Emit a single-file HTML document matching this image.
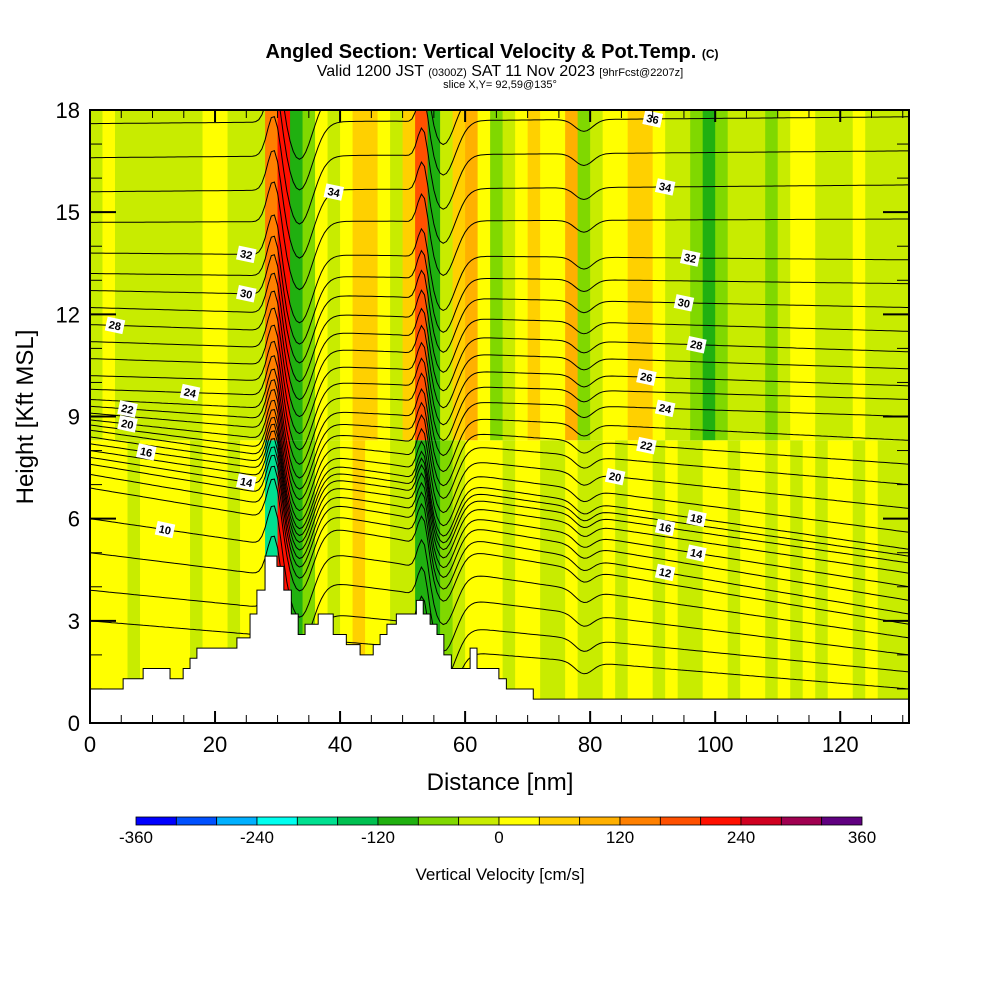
<!DOCTYPE html>
<html><head><meta charset="utf-8"><style>
body{margin:0;background:#fff;width:1000px;height:1000px;overflow:hidden;font-family:"Liberation Sans",sans-serif}
svg text{font-family:"Liberation Sans",sans-serif}
</style></head><body>
<svg id="c" width="1000" height="1000" xmlns="http://www.w3.org/2000/svg">
<g>
<text x="492" y="58" font-size="20" font-weight="bold" text-anchor="middle">Angled Section: Vertical Velocity &amp; Pot.Temp. <tspan font-size="12">(C)</tspan></text>
<text x="500" y="76" font-size="16" text-anchor="middle">Valid 1200 JST <tspan font-size="11">(0300Z)</tspan> SAT 11 Nov 2023 <tspan font-size="11">[9hrFcst@2207z]</tspan></text>
<text x="500" y="88" font-size="11" text-anchor="middle">slice X,Y= 92,59@135°</text>
</g>
<g id="plot"></g>
<g id="axes"></g>
<g id="cbar"></g>
</svg>
<script>
// ---- data ----
const colorBounds=[-360,-320,-280,-240,-200,-160,-120,-80,-40,0,40,80,120,160,200,240,280,320,360];
const colorList=["#0000ff","#0050ff","#00b0ff","#00fff0","#00e090","#00c050","#20b010","#80d800","#c8ec00","#ffff00","#ffd000","#ffb000","#ff8000","#ff5000","#ff1000","#d00020","#a00050","#600080"];
const cbarLabels=[-360,-240,-120,0,120,240,360];
const xTicks=[0,20,40,60,80,100,120];
const yTicks=[0,3,6,9,12,15,18];
// vertical velocity by 2-nm column (upper / lower layers)
const velUpper=[-20,20,-20,-20,-20,-20,-20,-20,-20,20,20,-20,-20,-20,140,200,-100,-60,20,-20,20,60,60,20,-20,60,160,-100,-20,60,100,20,-60,-20,20,60,20,20,100,-60,-20,20,20,60,60,20,-20,-20,-60,-100,-60,-20,-20,-20,-60,-20,20,20,-20,-20,-20,20,-20,-20,-20,-20];
const velLower=[20,20,20,-20,20,20,20,20,-20,20,20,-20,20,20,-200,220,-120,-60,20,-20,20,60,20,20,-20,-20,-100,-120,-60,-20,20,20,20,-20,20,20,-20,-20,20,-20,-20,20,-20,20,20,-20,20,-20,-20,20,20,-20,20,20,-20,20,-20,20,-20,20,20,-20,20,-20,-20,-20];
// terrain steps: distance nm, height kft
const terrainX=[0,5.3,8.5,12.8,14.9,16,17.1,23.5,25.6,26.7,28,29.9,31,32.2,33.3,34.4,36.5,38.9,41,43.2,45.3,46.4,47.5,49,52.2,53.3,54.4,55.5,56.6,57.8,60.8,61.9,65.4,66.6,70.9,131];
const terrainH=[1.0,1.3,1.6,1.3,1.6,1.9,2.2,2.5,3.2,3.9,4.9,4.6,3.9,3.2,2.6,2.9,3.2,2.6,2.3,2.0,2.3,2.6,2.9,3.2,3.6,3.2,2.9,2.6,2.0,1.6,2.2,1.6,1.3,1.0,0.7,0.3];
// potential temperature contour levels with heights at left & right edges
const thetaLevels=[7,8,9,10,11,12,13,14,15,16,17,18,19,20,21,22,23,24,25,26,27,28,29,30,31,32,33,34,35,36,37];
const thetaLeft=[3.0,3.9,5.0,6.0,6.9,7.3,7.6,7.8,8.0,8.2,8.4,8.6,8.75,8.9,9.1,9.3,9.5,9.8,10.2,10.7,11.2,11.7,12.2,12.7,13.2,13.8,14.7,15.6,16.6,17.6,18.5];
const thetaRight=[1.0,1.5,2.0,2.5,2.9,3.2,3.6,4.0,4.4,4.7,4.9,5.1,5.6,6.3,7.0,7.6,8.3,9.0,9.5,9.9,10.4,10.9,11.5,12.2,12.9,13.6,14.8,15.8,16.8,17.8,18.7];
const waveX=[29.5,33.5,53.3,56.5,79];
const waveAmp=[1.5,-2.0,1.2,-1.6,-0.35];
const waveW=[1.5,3.0,1.2,2.8,2.0];
const labelLevels=[10,14,16,20,22,24,28,30,32,34,36,12,14,16,18,20,22,24,26,28,30,32,34,36];
const labelX=[12,25,9,6,6,16,4,25,25,39,90,92,97,92,97,84,89,92,89,97,95,96,92,90];

const NS="http://www.w3.org/2000/svg";
const X0=90,X1=909,Y0=723,Y1=110,XMAX=131,YMAX=18;
const sx=d=>X0+d*(X1-X0)/XMAX, sy=h=>Y0-h*(Y0-Y1)/YMAX;
function mk(tag,attrs,parent){const e=document.createElementNS(NS,tag);for(const k in attrs)e.setAttribute(k,attrs[k]);parent.appendChild(e);return e;}
function colorFor(v){for(let i=0;i<colorList.length;i++){if(v<colorBounds[i+1])return colorList[i];}return colorList[colorList.length-1];}
const plot=document.getElementById('plot');
const defs=mk('defs',{},plot);
const cp=mk('clipPath',{id:'pc'},defs);mk('rect',{x:X0,y:Y1,width:X1-X0,height:Y0-Y1},cp);
const g=mk('g',{'clip-path':'url(#pc)'},plot);
const split=8.3;
velUpper.forEach((v,i)=>{const r=mk('rect',{x:sx(i*2),y:Y1,width:sx(2)-sx(0)+0.5,height:sy(split)-Y1,fill:colorFor(v)},g);

});
velLower.forEach((v,i)=>{const r=mk('rect',{x:sx(i*2),y:sy(split),width:sx(2)-sx(0)+0.5,height:Y0-sy(split),fill:colorFor(v)},g);

});
function thetaH(i,d){const t=d/XMAX;let h=thetaLeft[i]+(thetaRight[i]-thetaLeft[i])*t;
for(let k=0;k<waveX.length;k++){h+=waveAmp[k]*Math.exp(-Math.pow((d-waveX[k])/waveW[k],2));}return h;}
thetaLevels.forEach((lv,i)=>{let p='';for(let d=0;d<=XMAX;d+=0.5){p+=(d?'L':'M')+sx(d).toFixed(1)+','+sy(thetaH(i,d)).toFixed(1);}
const pl=mk('path',{d:p,fill:'none',stroke:'#000','stroke-width':1},g);

});
// terrain
let tp='M'+sx(0)+','+Y0;
terrainX.forEach((d,i)=>{const nx=i<terrainX.length-1?terrainX[i+1]:XMAX;tp+='L'+sx(d)+','+sy(terrainH[i])+'L'+sx(nx)+','+sy(terrainH[i]);});
tp+='L'+sx(XMAX)+','+Y0+'Z';
const ter=mk('path',{d:tp,fill:'#fff',stroke:'#000','stroke-width':1},g);


// labels
labelLevels.forEach((lv,j)=>{const i=thetaLevels.indexOf(lv);const d=labelX[j];const cx=sx(d),cy=sy(thetaH(i,d));
const lg=mk('g',{transform:'rotate(12 '+cx+' '+cy+')'},g);


mk('rect',{x:cx-9,y:cy-7,width:18,height:14,fill:'#fff'},lg);
const t=mk('text',{x:cx,y:cy+4,'font-size':11,'font-weight':'bold','text-anchor':'middle'},lg);t.textContent=lv;});
// axes
const ax=document.getElementById('axes');
mk('rect',{x:X0,y:Y1,width:X1-X0,height:Y0-Y1,fill:'none',stroke:'#000','stroke-width':2},ax);
for(let d=0;d<=XMAX;d+=5){const maj=d%20===0;const l=maj?12:8;
mk('line',{x1:sx(d),x2:sx(d),y1:Y0,y2:Y0-l,stroke:'#000','stroke-width':maj?2:1},ax);
mk('line',{x1:sx(d),x2:sx(d),y1:Y1,y2:Y1+l,stroke:'#000','stroke-width':maj?2:1},ax);}
for(let h=0;h<=YMAX;h+=1){const maj=h%3===0;const l=maj?26:12;
mk('line',{y1:sy(h),y2:sy(h),x1:X0,x2:X0+l,stroke:'#000','stroke-width':maj?2:1},ax);
mk('line',{y1:sy(h),y2:sy(h),x1:X1,x2:X1-l,stroke:'#000','stroke-width':maj?2:1},ax);}
xTicks.forEach(v=>{const t=mk('text',{x:sx(v),y:752,'font-size':22,'text-anchor':'middle'},ax);t.textContent=v;

});
yTicks.forEach(v=>{const t=mk('text',{x:80,y:sy(v)+8,'font-size':22,'text-anchor':'end'},ax);t.textContent=v;

});
const xt=mk('text',{x:500,y:790,'font-size':24,'text-anchor':'middle'},ax);xt.textContent='Distance [nm]';


const yt=mk('text',{x:33,y:417,'font-size':24,'text-anchor':'middle',transform:'rotate(-90 33 417)'},ax);yt.textContent='Height [Kft MSL]';


// colorbar
const cb=document.getElementById('cbar');const CB0=136,CB1=862,cw=(CB1-CB0)/colorList.length;
colorList.forEach((c,i)=>{const r=mk('rect',{x:CB0+i*cw,y:817,width:cw,height:8,fill:c,stroke:'#000','stroke-width':0.8},cb);

});
cbarLabels.forEach(v=>{const t=mk('text',{x:CB0+(v+360)/720*(CB1-CB0),y:843,'font-size':17,'text-anchor':'middle'},cb);t.textContent=v;

});
const ct=mk('text',{x:500,y:880,'font-size':17,'text-anchor':'middle'},cb);ct.textContent='Vertical Velocity [cm/s]';


</script>
</body></html>
